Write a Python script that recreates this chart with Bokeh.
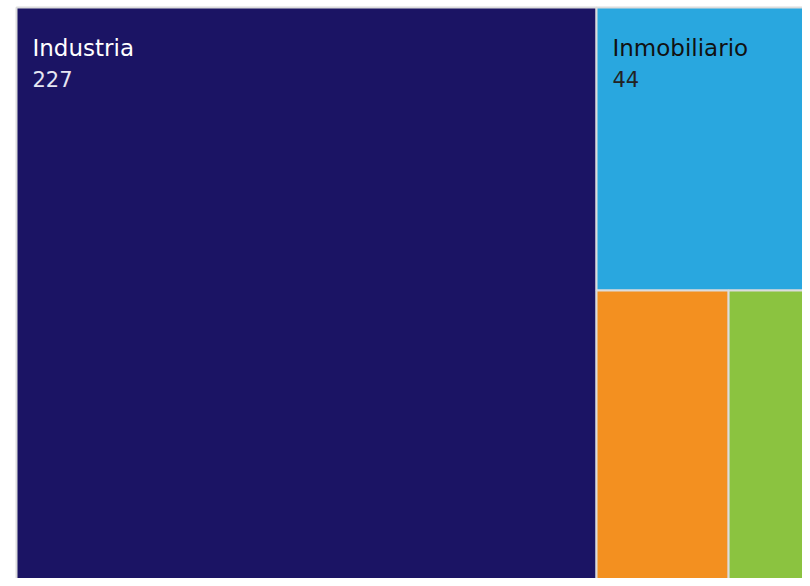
from bokeh.plotting import figure
from bokeh.models import Range1d, ColumnDataSource
from bokeh.embed import file_html
from bokeh.resources import INLINE
from bokeh.core.properties import value

# ---- data ----
categories = ["Industria", "Inmobiliario", "Servicios", "Otros"]
values = [227, 44, 28, 24]
colors = ["#1B1464", "#29A7DF", "#F39020", "#8BC340"]
name_colors = ["#FFFFFF", "#111111", "#111111", "#111111"]
value_colors = ["#E6E6F2", "#222222", "#222222", "#222222"]

# ---- layout (alternating slice treemap) ----
LAYOUT_W = 825.3
LAYOUT_H = 617.5


def slice_layout(vals, x0, y0, w, h):
    rects = []
    remaining = float(sum(vals))
    vertical = True
    for i, v in enumerate(vals):
        if i == len(vals) - 1:
            rects.append((x0, y0, x0 + w, y0 + h))
            break
        frac = v / remaining
        if vertical:
            cw = w * frac
            rects.append((x0, y0, x0 + cw, y0 + h))
            x0 += cw
            w -= cw
        else:
            ch = h * frac
            rects.append((x0, y0, x0 + w, y0 + ch))
            y0 += ch
            h -= ch
        remaining -= v
        vertical = not vertical
    return rects


rects = slice_layout(values, 0.0, 0.0, LAYOUT_W, LAYOUT_H)
left = [r[0] for r in rects]
top = [r[1] for r in rects]
right = [r[2] for r in rects]
bottom = [r[3] for r in rects]

src = ColumnDataSource(dict(left=left, right=right, top=top, bottom=bottom,
                            color=colors, cat=categories, val=[str(v) for v in values]))

idx = [i for i, r in enumerate(rects) if (r[2] - r[0]) > 200]
lab = ColumnDataSource(dict(
    x=[left[i] + 16 for i in idx],
    y1=[top[i] + 40 for i in idx],
    y2=[top[i] + 71 for i in idx],
    cat=[categories[i] for i in idx],
    val=[str(values[i]) for i in idx],
    ncol=[name_colors[i] for i in idx],
    vcol=[value_colors[i] for i in idx],
))

p = figure(width=802, height=578, output_backend="svg", toolbar_location=None,
           x_range=Range1d(-2, 786), y_range=Range1d(571, -2),
           min_border_left=14, min_border_right=0, min_border_top=5, min_border_bottom=0)
p.axis.visible = False
p.xgrid.visible = False
p.ygrid.visible = False
p.outline_line_color = None
p.background_fill_color = "white"
p.border_fill_color = "white"

p.quad(left="left", right="right", top="top", bottom="bottom", source=src,
       fill_color="color", line_color="#DCDCDC", line_width=2)

p.text(x="x", y="y1", text="cat", source=lab, text_color="ncol",
       text_font=value("DejaVu Sans"), text_font_size="23px",
       text_baseline="alphabetic", text_align="left")
p.text(x="x", y="y2", text="val", source=lab, text_color="vcol",
       text_font=value("DejaVu Sans"), text_font_size="21px",
       text_baseline="alphabetic", text_align="left")

open("out.html", "w").write(file_html(p, INLINE))
